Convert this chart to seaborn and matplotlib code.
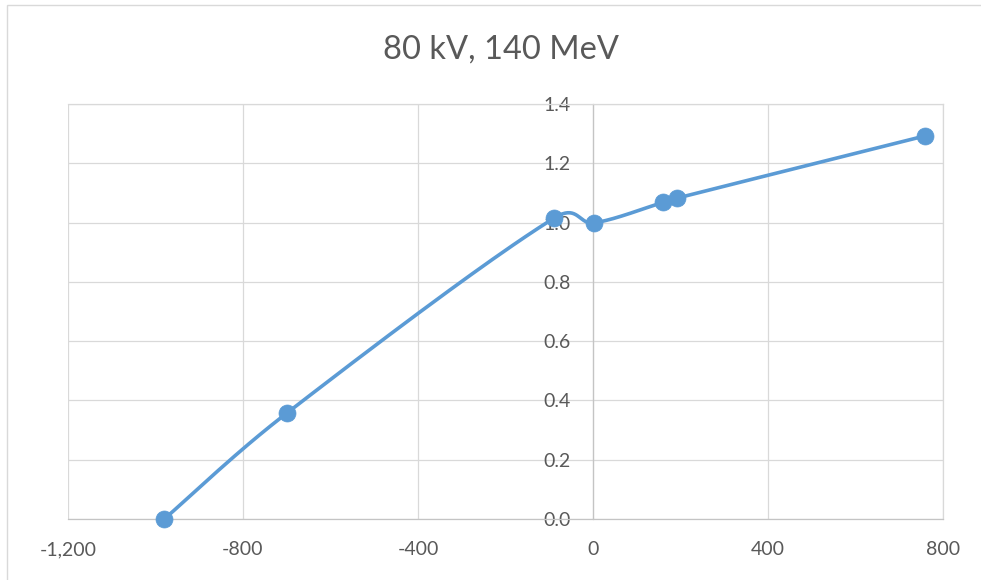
import numpy as np
import pandas as pd
import matplotlib
matplotlib.use("Agg")
import matplotlib.pyplot as plt
from matplotlib.patches import Rectangle
import seaborn as sns

# values
x_vals = [-980, -700, -88, 2, 160, 191, 758]
y_vals = [0.0, 0.357, 1.016, 0.999, 1.068, 1.082, 1.292]
x_ticks = [-1200, -800, -400, 0, 400, 800]
y_ticks = [0.0, 0.2, 0.4, 0.6, 0.8, 1.0, 1.2, 1.4]
title = "80 kV, 140 MeV"

blue = "#5B9BD5"
grey_text = "#595959"


def smooth_curve(xs, ys, sx, sy, steps=40):
    # Bezier path through the points (screen space), close to Excel's "smoothed line"
    p = np.column_stack([np.asarray(xs) * sx, np.asarray(ys) * sy]).astype(float)
    p = np.vstack([p[0], p, p[-1]])
    out = []
    for i in range(1, len(p) - 2):
        p0, p1, p2, p3 = p[i - 1], p[i], p[i + 1], p[i + 2]
        d01 = np.linalg.norm(p1 - p0)
        d12 = np.linalg.norm(p2 - p1)
        d23 = np.linalg.norm(p3 - p2)
        f1 = np.sqrt(2 * d12 / (d01 + d12)) / 6 if d01 + d12 else 0
        f2 = np.sqrt(2 * d12 / (d12 + d23)) / 6 if d12 + d23 else 0
        c1 = p1 + (p2 - p0) * f1
        c2 = p2 - (p3 - p1) * f2
        t = np.linspace(0, 1, steps)[:, None]
        seg = ((1 - t) ** 3) * p1 + 3 * ((1 - t) ** 2) * t * c1 + 3 * (1 - t) * t ** 2 * c2 + t ** 3 * p2
        out.append(seg if i == 1 else seg[1:])
    out = np.vstack(out)
    return out[:, 0] / sx, out[:, 1] / sy


sns.set_style("white")
plt.rcParams["font.family"] = ["Lato", "DejaVu Sans"]

fig = plt.figure(figsize=(9.81, 5.8), dpi=100)
ax = fig.add_axes([68 / 981, 1 - 519 / 580, 875 / 981, 415 / 580])

cx, cy = smooth_curve(x_vals, y_vals, 875 / 2000, 415 / 1.4)
line_df = pd.DataFrame({"x": cx, "y": cy})
pts_df = pd.DataFrame({"x": x_vals, "y": y_vals})

sns.lineplot(data=line_df, x="x", y="y", sort=False, color=blue, linewidth=2.6, ax=ax, zorder=3)
sns.scatterplot(data=pts_df, x="x", y="y", color=blue, s=150, edgecolor=blue, linewidth=0.5, ax=ax, zorder=4, clip_on=False)

ax.set_xlim(-1200, 800)
ax.set_ylim(0, 1.4)
ax.set_xticks(x_ticks)
ax.set_yticks(y_ticks)
ax.set_xticklabels([f"{v:,}" for v in x_ticks])
ax.set_yticklabels([f"{v:.1f}" for v in y_ticks])
ax.set_xlabel("")
ax.set_ylabel("")

ax.grid(True, color="#D9D9D9", linewidth=0.9)
ax.set_axisbelow(True)

for side in ["top", "right"]:
    ax.spines[side].set_visible(True)
    ax.spines[side].set_color("#D9D9D9")
    ax.spines[side].set_linewidth(0.9)
ax.spines["left"].set_position(("data", 0))
ax.spines["left"].set_color("#C4C4C4")
ax.spines["left"].set_linewidth(0.9)
ax.spines["bottom"].set_color("#C4C4C4")
ax.spines["bottom"].set_linewidth(0.9)

ax.tick_params(axis="y", length=0, pad=16, labelsize=14, labelcolor=grey_text)
ax.tick_params(axis="x", length=0, pad=16, labelsize=14, labelcolor=grey_text)

fig.text(501 / 981, 1 - 50 / 580, title, ha="center", va="center", fontsize=23.5, color=grey_text)

# outer chart frame, cut off at right and bottom like the reference
fig.patches.append(Rectangle((7 / 981, -0.05), 1.1, 1 - 5 / 580 + 0.05,
                             transform=fig.transFigure, fill=False,
                             edgecolor="#D9D9D9", linewidth=1.0))

fig.savefig("out.png", dpi=100)
